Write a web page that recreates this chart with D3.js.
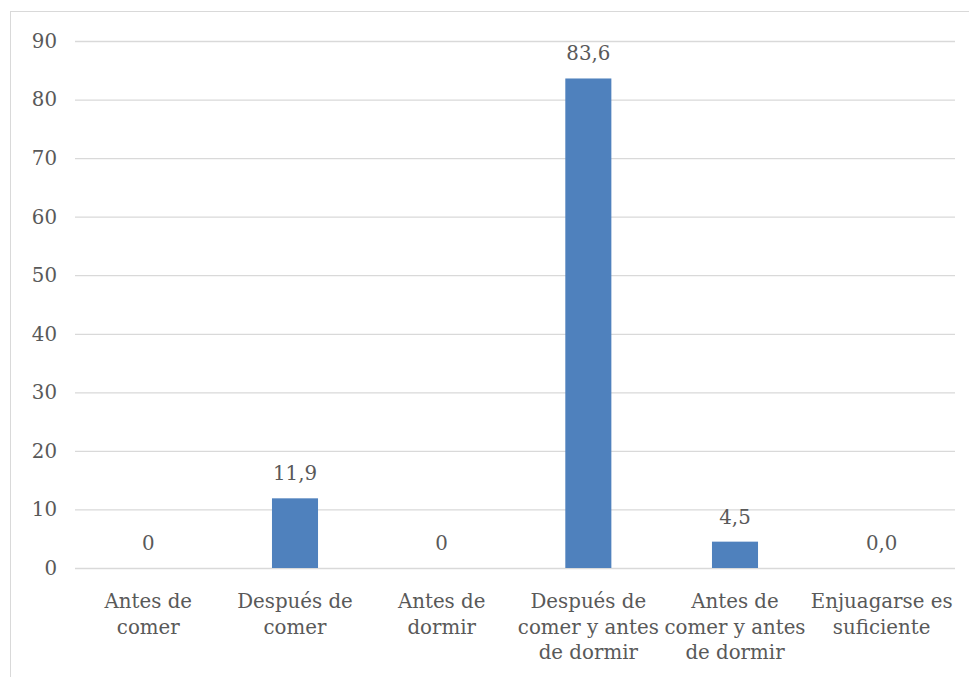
<!DOCTYPE html>
<html>
<head>
<meta charset="utf-8">
<script src="https://cdn.jsdelivr.net/npm/d3@7"></script>
<style>
  html, body { margin: 0; padding: 0; background: #fff; }
  svg text { font-family: "DejaVu Serif", "Liberation Serif", serif; fill: #595959; }
</style>
</head>
<body>
<div class="bar-chart"></div>
<script>
// ------------------------------------------------------
const categories = [
    [ 'Antes de', 'comer' ],
    [ 'Después de', 'comer' ],
    [ 'Antes de', 'dormir' ],
    [ 'Después de', 'comer y antes', 'de dormir' ],
    [ 'Antes de', 'comer y antes', 'de dormir' ],
    [ 'Enjuagarse es', 'suficiente' ]
];
const values = [ 0, 11.9, 0, 83.6, 4.5, 0 ];
const valueLabels = [ '0', '11,9', '0', '83,6', '4,5', '0,0' ];
const yTicks = [ 0, 10, 20, 30, 40, 50, 60, 70, 80, 90 ];
// ------------------------------------------------------
const plotWidth = 969;
const plotHeight = 677;
const plotLeft = 75, plotRight = 955, plotTop = 41, plotBottom = 568;
const fontSize = '19.8px';
// ------------------------------------------------------
window.addEventListener( 'load', function () {
    let svg = d3.select( '.bar-chart' )
        .append( 'svg' )
        .attr( 'width', plotWidth )
        .attr( 'height', plotHeight );
    // border of the chart area
    svg.append( 'rect' )
        .attr( 'x', 10.5 )
        .attr( 'y', 11.5 )
        .attr( 'width', 980 )
        .attr( 'height', 700 )
        .attr( 'fill', 'none' )
        .attr( 'stroke', '#d9d9d9' );
    // --------------------------------------------------
    let x = d3.scaleBand()
        .domain( d3.range( categories.length ) )
        .range( [ plotLeft, plotRight ] )
        .paddingInner( 0.686 )
        .paddingOuter( 0.343 );
    let y = d3.scaleLinear()
        .domain( [ 0, 90 ] )
        .range( [ plotBottom, plotTop ] );
    // --------------------------------------------------
    let yAxis = svg.append( 'g' )
        .attr( 'transform', 'translate(' + plotLeft + ',0)' )
        .call( d3.axisLeft( y ).tickValues( yTicks ).tickSize( -( plotRight - plotLeft ) ).tickPadding( 18 ) );
    yAxis.select( '.domain' ).remove();
    yAxis.selectAll( '.tick line' ).attr( 'stroke', '#d9d9d9' ).attr( 'stroke-width', 1.3 );
    yAxis.selectAll( '.tick text' )
        .attr( 'font-size', fontSize )
        .style( 'font-family', '"DejaVu Serif", serif' )
        .attr( 'fill', '#595959' );
    // --------------------------------------------------
    svg.selectAll( '.bar' )
        .data( values )
        .enter()
        .append( 'rect' )
        .classed( 'bar', true )
        .attr( 'x', function ( d, i ) { return x( i ); } )
        .attr( 'y', function ( d ) { return y( d ); } )
        .attr( 'width', x.bandwidth() )
        .attr( 'height', function ( d ) { return y( 0 ) - y( d ); } )
        .attr( 'fill', '#4f81bd' );
    // --------------------------------------------------
    svg.selectAll( '.value-label' )
        .data( values )
        .enter()
        .append( 'text' )
        .classed( 'value-label', true )
        .attr( 'x', function ( d, i ) { return x( i ) + x.bandwidth() / 2; } )
        .attr( 'y', function ( d ) { return y( d ) - 18; } )
        .attr( 'text-anchor', 'middle' )
        .attr( 'font-size', fontSize )
        .text( function ( d, i ) { return valueLabels[ i ]; } );
    // --------------------------------------------------
    let catLabels = svg.selectAll( '.cat-label' )
        .data( categories )
        .enter()
        .append( 'text' )
        .classed( 'cat-label', true )
        .attr( 'text-anchor', 'middle' )
        .attr( 'font-size', fontSize );
    catLabels.selectAll( 'tspan' )
        .data( function ( d, i ) { return d.map( function ( s ) { return { s: s, i: i }; } ); } )
        .enter()
        .append( 'tspan' )
        .attr( 'x', function ( d ) { return x( d.i ) + x.bandwidth() / 2; } )
        .attr( 'y', function ( d, j ) { return 608 + j * 25.5; } )
        .text( function ( d ) { return d.s; } );
}, false );
</script>
</body>
</html>
